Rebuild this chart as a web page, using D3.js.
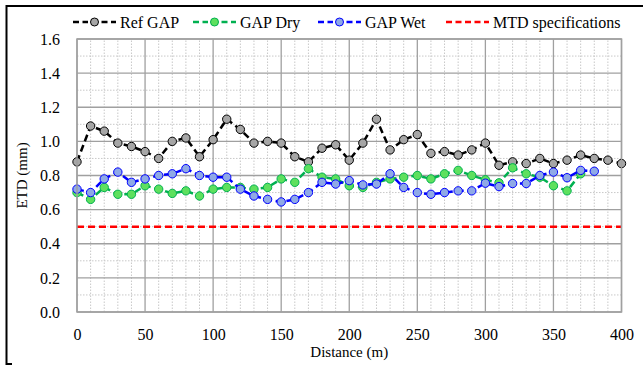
<!DOCTYPE html>
<html>
<head>
<meta charset="UTF-8">
<style>
  body { margin: 0; background: #fff; }
  svg { display: block; }
  svg text { font-family: "Liberation Serif", "Times New Roman", "DejaVu Serif", serif !important; }
</style>
</head>
<body>
<svg></svg>
<script src="https://d3js.org/d3.v7.min.js"></script>
<script>
let width = 643, height = 365;

// distances (m)
const distances = [0, 10, 20, 30, 40, 50, 60, 70, 80, 90, 100, 110, 120, 130, 140, 150, 160, 170, 180, 190,
  200, 210, 220, 230, 240, 250, 260, 270, 280, 290, 300, 310, 320, 330, 340, 350, 360, 370, 380, 390, 400];

// ETD (mm) per series
const refGap = [0.88, 1.09, 1.06, 0.99, 0.97, 0.94, 0.90, 1.00, 1.02, 0.91, 1.01, 1.13, 1.07, 0.99, 1.00, 0.99, 0.91, 0.88, 0.96, 0.98,
  0.89, 0.99, 1.13, 0.95, 1.01, 1.04, 0.93, 0.94, 0.92, 0.95, 0.99, 0.86, 0.88, 0.87, 0.90, 0.87, 0.89, 0.92, 0.90, 0.89, 0.87];
const gapDry = [0.70, 0.66, 0.73, 0.69, 0.69, 0.74, 0.72, 0.695, 0.71, 0.68, 0.72, 0.73, 0.73, 0.72, 0.73, 0.78, 0.76, 0.84, 0.79, 0.78,
  0.74, 0.73, 0.76, 0.78, 0.79, 0.80, 0.78, 0.81, 0.83, 0.80, 0.775, 0.757, 0.845, 0.81, 0.79, 0.74, 0.71, 0.81];
const gapWet = [0.72, 0.70, 0.78, 0.82, 0.76, 0.78, 0.80, 0.81, 0.84, 0.80, 0.79, 0.79, 0.72, 0.68, 0.66, 0.645, 0.66, 0.70, 0.76, 0.75,
  0.77, 0.745, 0.75, 0.81, 0.73, 0.70, 0.69, 0.70, 0.71, 0.71, 0.755, 0.735, 0.753, 0.753, 0.80, 0.82, 0.787, 0.83, 0.825];
const mtdSpec = [0.5, 0.5];
const mtdDist = [0, 400];

const xTicks = [0, 50, 100, 150, 200, 250, 300, 350, 400];
const yTicks = [0.0, 0.2, 0.4, 0.6, 0.8, 1.0, 1.2, 1.4, 1.6];

const series = [
  { name: "Ref GAP", values: refGap, stroke: "#000000", fill: "#a6a6a6" },
  { name: "GAP Dry", values: gapDry, stroke: "#00b050", fill: "#5ee05e" },
  { name: "GAP Wet", values: gapWet, stroke: "#0000ff", fill: "#8fa9e6" }
];

let svg = d3.select("svg").attr("width", width).attr("height", height);

let margin = { left: 77, right: 21.5, top: 39, bottom: 53 };

let x = d3.scaleLinear().domain([0, 400]).range([margin.left, width - margin.right]);
let y = d3.scaleLinear().domain([0, 1.6]).range([height - margin.bottom, margin.top]);

// outer frame (cut off at right / bottom)
svg.append("path")
  .attr("d", "M12,364 H6.5 V6 H643")
  .attr("fill", "none")
  .attr("stroke", "#000")
  .attr("stroke-width", 2);

// minor grid
let grid = svg.append("g");
grid.selectAll(".vminor")
  .data(d3.range(0, 401, 10).filter(d => d % 50 !== 0))
  .enter().append("line")
  .attr("x1", d => x(d)).attr("x2", d => x(d))
  .attr("y1", y(0)).attr("y2", y(1.6))
  .attr("stroke", "#c8c8c8").attr("stroke-width", 1).attr("stroke-dasharray", "1.5,1.5");
grid.selectAll(".hminor")
  .data([0.1, 0.3, 0.5, 0.7, 0.9, 1.1, 1.3, 1.5])
  .enter().append("line")
  .attr("x1", x(0)).attr("x2", x(400))
  .attr("y1", d => y(d)).attr("y2", d => y(d))
  .attr("stroke", "#c8c8c8").attr("stroke-width", 1).attr("stroke-dasharray", "1.5,1.5");

// major grid
grid.selectAll(".vmajor")
  .data(xTicks)
  .enter().append("line")
  .attr("x1", d => x(d)).attr("x2", d => x(d))
  .attr("y1", y(0)).attr("y2", y(1.6))
  .attr("stroke", "#a0a0a0").attr("stroke-width", 1.3);
grid.selectAll(".hmajor")
  .data(yTicks)
  .enter().append("line")
  .attr("x1", x(0)).attr("x2", x(400))
  .attr("y1", d => y(d)).attr("y2", d => y(d))
  .attr("stroke", "#a0a0a0").attr("stroke-width", 1.3);

// axes labels via d3 axes
let xAxis = svg.append("g")
  .attr("transform", "translate(0," + (y(0) + 14) + ")")
  .call(d3.axisBottom(x).tickValues(xTicks).tickSize(0).tickFormat(d3.format("d")));
xAxis.select(".domain").remove();
xAxis.selectAll("text").attr("font-size", "16px").attr("fill", "#000");

let yAxis = svg.append("g")
  .attr("transform", "translate(" + (x(0) - 14) + ",0)")
  .call(d3.axisLeft(y).tickValues(yTicks).tickSize(0).tickFormat(d3.format(".1f")));
yAxis.select(".domain").remove();
yAxis.selectAll("text").attr("font-size", "16px").attr("fill", "#000");

// axis titles
svg.append("text")
  .attr("x", (x(0) + x(400)) / 2).attr("y", 357)
  .attr("text-anchor", "middle").attr("font-size", "15px")
  .text("Distance (m)");
svg.append("text")
  .attr("transform", "translate(27," + ((y(0) + y(1.6)) / 2) + ") rotate(-90)")
  .attr("text-anchor", "middle").attr("font-size", "15px")
  .text("ETD (mm)");

// series
let line = d3.line().x(d => x(d[0])).y(d => y(d[1]));

series.forEach(s => {
  let pts = s.values.map((v, i) => [distances[i], v]);
  let g = svg.append("g");
  g.append("path")
    .datum(pts)
    .attr("d", line)
    .attr("fill", "none")
    .attr("stroke", s.stroke)
    .attr("stroke-width", 2.5)
    .attr("stroke-dasharray", "7,4");
  g.selectAll("circle")
    .data(pts)
    .enter().append("circle")
    .attr("cx", d => x(d[0])).attr("cy", d => y(d[1]))
    .attr("r", 4.2)
    .attr("fill", s.fill)
    .attr("stroke", s.stroke)
    .attr("stroke-width", 1);
});

// MTD spec line
svg.append("path")
  .datum(mtdDist.map((d, i) => [d, mtdSpec[i]]))
  .attr("d", line)
  .attr("fill", "none")
  .attr("stroke", "#ff0000")
  .attr("stroke-width", 2.5)
  .attr("stroke-dasharray", "7,4");

// plot area border
svg.append("rect")
  .attr("x", x(0)).attr("y", y(1.6))
  .attr("width", x(400) - x(0)).attr("height", y(0) - y(1.6))
  .attr("fill", "none").attr("stroke", "#a0a0a0").attr("stroke-width", 1.5);

// legend
const legendItems = [
  { name: "Ref GAP", stroke: "#000000", fill: "#a6a6a6", x: 73, marker: true },
  { name: "GAP Dry", stroke: "#00b050", fill: "#5ee05e", x: 193, marker: true },
  { name: "GAP Wet", stroke: "#0000ff", fill: "#8fa9e6", x: 318, marker: true },
  { name: "MTD specifications", stroke: "#ff0000", fill: "none", x: 446, marker: false }
];
let legend = svg.append("g").attr("transform", "translate(0,22)");
legendItems.forEach(l => {
  legend.append("line")
    .attr("x1", l.x).attr("x2", l.x + 43)
    .attr("y1", 0).attr("y2", 0)
    .attr("stroke", l.stroke).attr("stroke-width", 2.5)
    .attr("stroke-dasharray", "6,3.5");
  if (l.marker) {
    legend.append("rect")
      .attr("x", l.x + 15).attr("y", -5).attr("width", 13).attr("height", 10)
      .attr("fill", "#fff");
    legend.append("circle")
      .attr("cx", l.x + 21.5).attr("cy", 0).attr("r", 4)
      .attr("fill", l.fill).attr("stroke", l.stroke).attr("stroke-width", 1);
  }
  legend.append("text")
    .attr("x", l.x + 47).attr("y", 0).attr("dy", "0.35em")
    .attr("font-size", "16px")
    .text(l.name);
});
</script>
</body>
</html>
